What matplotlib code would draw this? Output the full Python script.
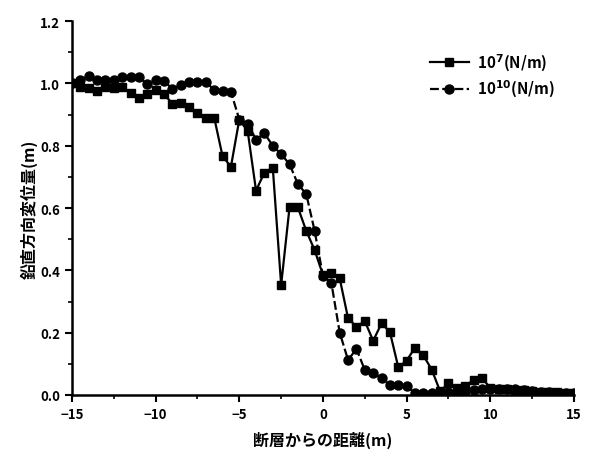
import numpy as np
import matplotlib
matplotlib.use("Agg")
import matplotlib.pyplot as plt
from matplotlib.ticker import MultipleLocator, FormatStrFormatter

plt.rcParams['font.family'] = ['Noto Sans CJK JP', 'DejaVu Sans']
plt.rcParams['font.weight'] = 'bold'

x = np.arange(-15, 15.01, 0.5)

disp_1e7 = [1.00, 0.99, 0.984, 0.976, 0.989, 0.984, 0.989, 0.968, 0.952, 0.966,
            0.98, 0.966, 0.935, 0.938, 0.925, 0.905, 0.89, 0.89, 0.766, 0.733,
            0.884, 0.847, 0.656, 0.714, 0.73, 0.353, 0.602, 0.602, 0.527, 0.465,
            0.385, 0.392, 0.374, 0.246, 0.219, 0.237, 0.174, 0.23, 0.202, 0.089,
            0.11, 0.152, 0.127, 0.081, 0.012, 0.037, 0.021, 0.029, 0.048, 0.055,
            0.022, 0.02, 0.018, 0.017, 0.015, 0.012, 0.01, 0.01, 0.008, 0.007, 0.006]

disp_1e10 = [1.00, 1.011, 1.024, 1.011, 1.011, 1.011, 1.02, 1.02, 1.02, 0.998,
             1.011, 1.008, 0.983, 0.994, 1.006, 1.006, 1.006, 0.978, 0.975, 0.973,
             0.884, 0.871, 0.82, 0.84, 0.80, 0.773, 0.741, 0.677, 0.645, 0.527,
             0.382, 0.36, 0.2, 0.112, 0.148, 0.08, 0.072, 0.053, 0.032, 0.032,
             0.03, 0.005, 0.005, 0.006, 0.006, 0.008, 0.01, 0.012, 0.015, 0.018,
             0.02, 0.02, 0.02, 0.018, 0.015, 0.012, 0.01, 0.008, 0.006, 0.005, 0.005]

labels = [r'10$^{7}$(N/m)', r'10$^{10}$(N/m)']

fig = plt.figure(figsize=(5.89, 4.52), dpi=100)
ax = fig.add_axes([0.1222, 0.124, 0.8523, 0.827])

ax.plot(x, disp_1e7, color='black', lw=1.6, marker='s', ms=6, ls='-', label=labels[0])
ax.plot(x, disp_1e10, color='black', lw=1.6, marker='o', ms=6.5, ls=(0, (4, 1.5)), label=labels[1])

ax.set_xlim(-15, 15)
ax.set_ylim(0, 1.2)
ax.xaxis.set_major_locator(MultipleLocator(5))
ax.xaxis.set_minor_locator(MultipleLocator(2.5))
ax.yaxis.set_major_locator(MultipleLocator(0.2))
ax.yaxis.set_minor_locator(MultipleLocator(0.1))
ax.yaxis.set_major_formatter(FormatStrFormatter('%.1f'))

for s in ['top', 'right']:
    ax.spines[s].set_visible(False)
for s in ['left', 'bottom']:
    ax.spines[s].set_linewidth(1.8)
ax.tick_params(which='major', direction='out', length=5, width=1.5, labelsize=9.5)
ax.tick_params(which='minor', direction='out', length=3, width=1.2)
for lbl in ax.get_xticklabels() + ax.get_yticklabels():
    lbl.set_fontweight('bold')

ax.set_xlabel('断層からの距離(m)', fontsize=11.5, fontweight='bold', labelpad=7)
ax.set_ylabel('鉛直方向変位量(m)', fontsize=11.5, fontweight='bold', labelpad=2)

leg = ax.legend(loc='upper left', bbox_to_anchor=(0.685, 0.955), frameon=False,
                fontsize=11, handlelength=2.6, handletextpad=0.5, labelspacing=0.35)
for t in leg.get_texts():
    t.set_fontweight('bold')

fig.savefig('out.png', dpi=100)
